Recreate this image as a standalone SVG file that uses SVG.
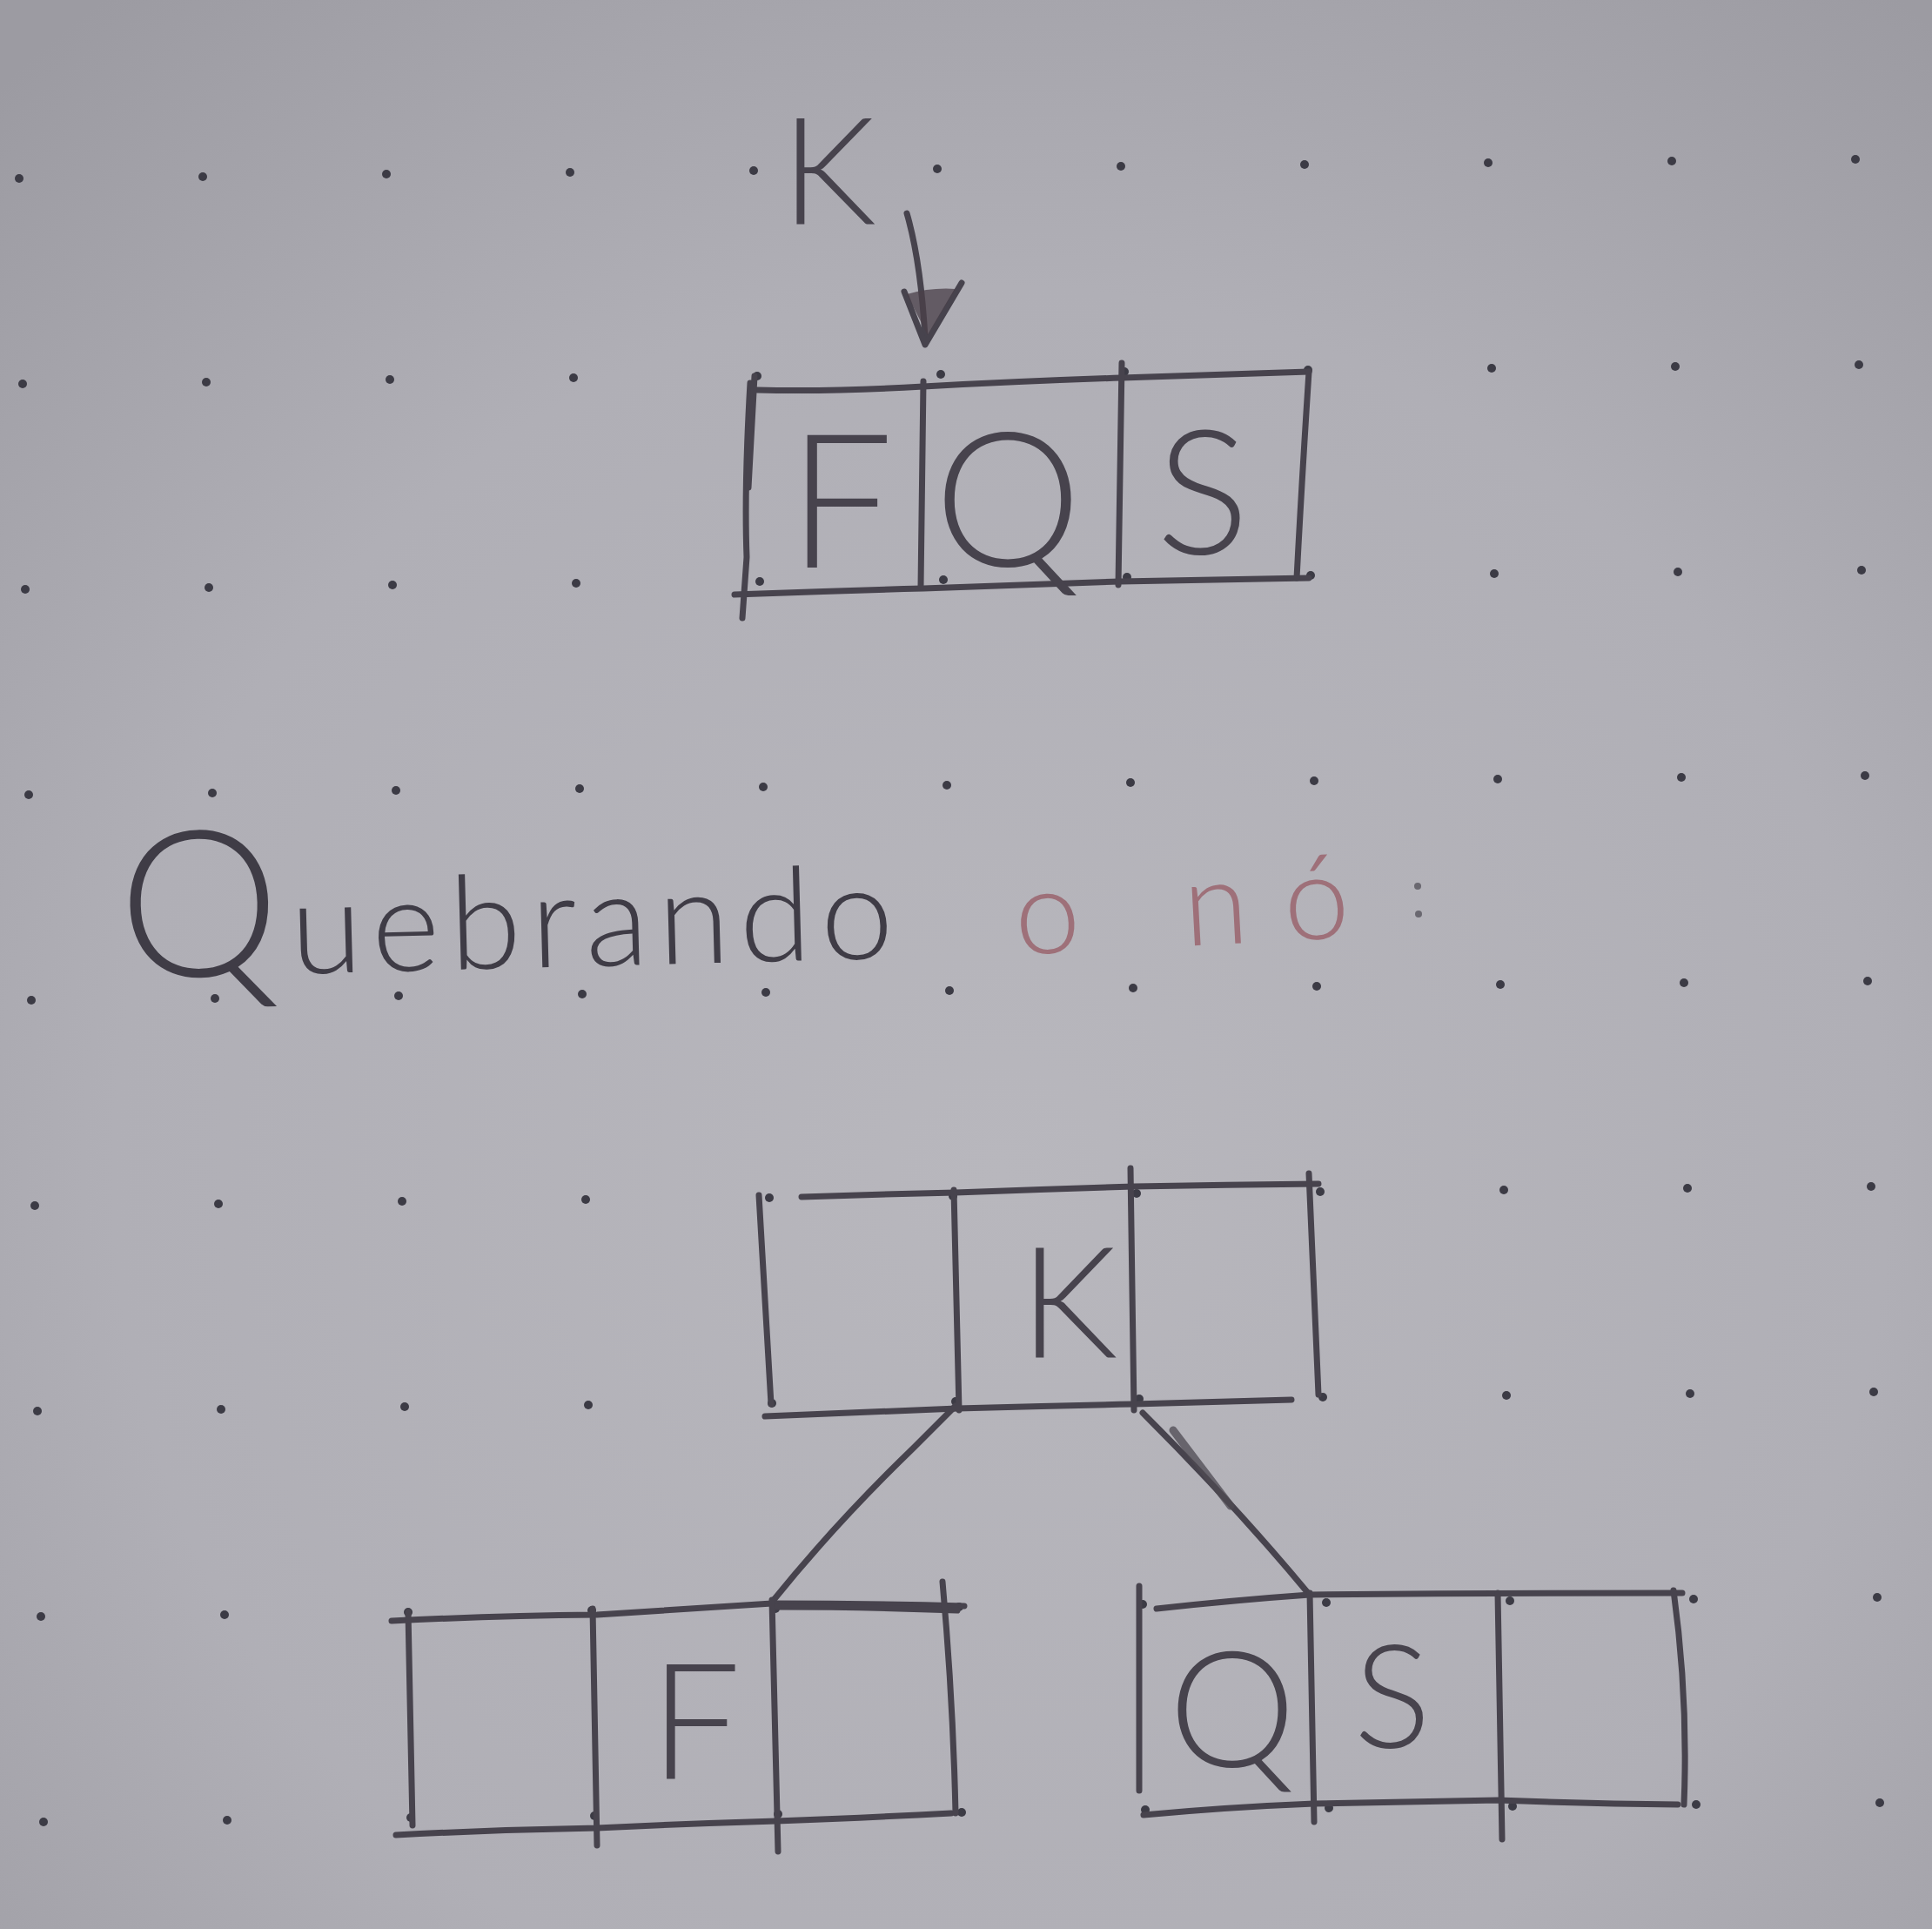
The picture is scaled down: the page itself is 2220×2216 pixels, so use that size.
<svg xmlns="http://www.w3.org/2000/svg" width="2220" height="2216" viewBox="0 0 2220 2216">
<defs>
<radialGradient id="paper" cx="1150" cy="1350" r="1700" gradientUnits="userSpaceOnUse">
<stop offset="0" stop-color="#b8b7bd"/>
<stop offset="0.6" stop-color="#b0afb6"/>
<stop offset="1" stop-color="#9c9ba2"/>
</radialGradient>
<style>
.pen{fill:none;stroke:#47434d;stroke-width:7;stroke-linecap:round;stroke-linejoin:round}
.pen2{fill:none;stroke:#4d4952;stroke-width:9;stroke-linecap:round;opacity:0.75}
.lbl{font-family:Lato,"Liberation Sans",sans-serif;font-weight:300;fill:#47434d;text-anchor:middle}
.hand{font-family:Lato,"Liberation Sans",sans-serif;font-weight:300}
.dot{fill:#3c3b45}
</style>
</defs>
<rect width="2220" height="2216" fill="url(#paper)"/>

<g id="dots">
<g id="dotrow0">
<circle class="dot" cx="22" cy="205" r="5"/><circle class="dot" cx="233" cy="203" r="5"/><circle class="dot" cx="444" cy="200" r="5"/><circle class="dot" cx="655" cy="198" r="5"/><circle class="dot" cx="866" cy="196" r="5"/><circle class="dot" cx="1077" cy="194" r="5"/><circle class="dot" cx="1288" cy="191" r="5"/><circle class="dot" cx="1499" cy="189" r="5"/><circle class="dot" cx="1710" cy="187" r="5"/><circle class="dot" cx="1921" cy="185" r="5"/><circle class="dot" cx="2132" cy="183" r="5"/>
</g>
<g id="dotrow1">
<circle class="dot" cx="26" cy="441" r="5"/><circle class="dot" cx="237" cy="439" r="5"/><circle class="dot" cx="448" cy="436" r="5"/><circle class="dot" cx="659" cy="434" r="5"/><circle class="dot" cx="870" cy="432" r="5"/><circle class="dot" cx="1081" cy="430" r="5"/><circle class="dot" cx="1292" cy="427" r="5"/><circle class="dot" cx="1503" cy="425" r="5"/><circle class="dot" cx="1714" cy="423" r="5"/><circle class="dot" cx="1925" cy="421" r="5"/><circle class="dot" cx="2136" cy="419" r="5"/>
</g>
<g id="dotrow2">
<circle class="dot" cx="29" cy="677" r="5"/><circle class="dot" cx="240" cy="675" r="5"/><circle class="dot" cx="451" cy="672" r="5"/><circle class="dot" cx="662" cy="670" r="5"/><circle class="dot" cx="873" cy="668" r="5"/><circle class="dot" cx="1084" cy="666" r="5"/><circle class="dot" cx="1295" cy="663" r="5"/><circle class="dot" cx="1506" cy="661" r="5"/><circle class="dot" cx="1717" cy="659" r="5"/><circle class="dot" cx="1928" cy="657" r="5"/><circle class="dot" cx="2139" cy="655" r="5"/>
</g>
<g id="dotrow3">
<circle class="dot" cx="33" cy="913" r="5"/><circle class="dot" cx="244" cy="911" r="5"/><circle class="dot" cx="455" cy="908" r="5"/><circle class="dot" cx="666" cy="906" r="5"/><circle class="dot" cx="877" cy="904" r="5"/><circle class="dot" cx="1088" cy="902" r="5"/><circle class="dot" cx="1299" cy="899" r="5"/><circle class="dot" cx="1510" cy="897" r="5"/><circle class="dot" cx="1721" cy="895" r="5"/><circle class="dot" cx="1932" cy="893" r="5"/><circle class="dot" cx="2143" cy="891" r="5"/>
</g>
<g id="dotrow4">
<circle class="dot" cx="36" cy="1149" r="5"/><circle class="dot" cx="247" cy="1147" r="5"/><circle class="dot" cx="458" cy="1144" r="5"/><circle class="dot" cx="669" cy="1142" r="5"/><circle class="dot" cx="880" cy="1140" r="5"/><circle class="dot" cx="1091" cy="1138" r="5"/><circle class="dot" cx="1302" cy="1135" r="5"/><circle class="dot" cx="1513" cy="1133" r="5"/><circle class="dot" cx="1724" cy="1131" r="5"/><circle class="dot" cx="1935" cy="1129" r="5"/><circle class="dot" cx="2146" cy="1127" r="5"/>
</g>
<g id="dotrow5">
<circle class="dot" cx="40" cy="1385" r="5"/><circle class="dot" cx="251" cy="1383" r="5"/><circle class="dot" cx="462" cy="1380" r="5"/><circle class="dot" cx="673" cy="1378" r="5"/><circle class="dot" cx="884" cy="1376" r="5"/><circle class="dot" cx="1095" cy="1374" r="5"/><circle class="dot" cx="1306" cy="1371" r="5"/><circle class="dot" cx="1517" cy="1369" r="5"/><circle class="dot" cx="1728" cy="1367" r="5"/><circle class="dot" cx="1939" cy="1365" r="5"/><circle class="dot" cx="2150" cy="1363" r="5"/>
</g>
<g id="dotrow6">
<circle class="dot" cx="43" cy="1621" r="5"/><circle class="dot" cx="254" cy="1619" r="5"/><circle class="dot" cx="465" cy="1616" r="5"/><circle class="dot" cx="676" cy="1614" r="5"/><circle class="dot" cx="887" cy="1612" r="5"/><circle class="dot" cx="1098" cy="1610" r="5"/><circle class="dot" cx="1309" cy="1607" r="5"/><circle class="dot" cx="1520" cy="1605" r="5"/><circle class="dot" cx="1731" cy="1603" r="5"/><circle class="dot" cx="1942" cy="1601" r="5"/><circle class="dot" cx="2153" cy="1599" r="5"/>
</g>
<g id="dotrow7">
<circle class="dot" cx="47" cy="1857" r="5"/><circle class="dot" cx="258" cy="1855" r="5"/><circle class="dot" cx="469" cy="1852" r="5"/><circle class="dot" cx="680" cy="1850" r="5"/><circle class="dot" cx="891" cy="1848" r="5"/><circle class="dot" cx="1102" cy="1846" r="5"/><circle class="dot" cx="1313" cy="1843" r="5"/><circle class="dot" cx="1524" cy="1841" r="5"/><circle class="dot" cx="1735" cy="1839" r="5"/><circle class="dot" cx="1946" cy="1837" r="5"/><circle class="dot" cx="2157" cy="1835" r="5"/>
</g>
<g id="dotrow8">
<circle class="dot" cx="50" cy="2093" r="5"/><circle class="dot" cx="261" cy="2091" r="5"/><circle class="dot" cx="472" cy="2088" r="5"/><circle class="dot" cx="683" cy="2086" r="5"/><circle class="dot" cx="894" cy="2084" r="5"/><circle class="dot" cx="1105" cy="2082" r="5"/><circle class="dot" cx="1316" cy="2079" r="5"/><circle class="dot" cx="1527" cy="2077" r="5"/><circle class="dot" cx="1738" cy="2075" r="5"/><circle class="dot" cx="1949" cy="2073" r="5"/><circle class="dot" cx="2160" cy="2071" r="5"/>
</g>
</g>

<g id="pointer-k">
<text class="lbl" x="952" y="258" font-size="172">K</text>
<path class="pen" d="M1042,245 Q1058,300 1063,388"/>
<path class="pen" d="M1039,335 L1063,396 L1105,325" />
<path d="M1042,338 Q1070,330 1098,332 L1066,385 Z" fill="#4a3f48" opacity="0.75"/>
</g>

<g id="node-fqs">
<path class="pen" d="M870,448 Q960,450 1061,444 Q1170,438 1289,434 Q1400,430 1504,427"/>
<path class="pen" d="M844,683 Q950,679 1061,676 Q1170,672 1287,668 Q1400,666 1504,664"/>
<path class="pen" d="M862,440 Q855,560 858,640 L853,710"/>
<path class="pen" d="M867,432 L860,560" stroke-width="11"/>
<path class="pen" d="M1061,438 L1058,674"/>
<path class="pen" d="M1289,417 L1285,672"/>
<path class="pen" d="M1504,427 Q1496,550 1490,664"/>
<text class="lbl" x="966" y="652" font-size="215">F</text>
<text class="lbl" x="1158" y="650" font-size="215">Q</text>
<text class="lbl" x="1382" y="636" font-size="200">S</text>
</g>

<g id="title">
<text class="hand" x="138" y="1124" font-size="150" fill="#3f3c46" textLength="890" lengthAdjust="spacing" transform="rotate(-1.5 138 1124)"><tspan font-size="235">Q</tspan>uebrando</text>
<text class="hand" x="1168" y="1097" font-size="135" fill="#9e7079" textLength="385" lengthAdjust="spacing" transform="rotate(-3 1168 1097)">o nó</text>
<circle cx="1629" cy="1018" r="4" fill="#6a6870"/>
<circle cx="1630" cy="1050" r="4" fill="#6a6870"/>
</g>

<g id="connectors">
<path class="pen" d="M1098,1615 L1050,1663 Q960,1750 889,1838"/>
<path class="pen" d="M1313,1623 Q1420,1730 1503,1830"/>
<path class="pen2" d="M1348,1643 L1414,1730"/>
</g>

<g id="node-k">
<path class="pen" d="M921,1375 Q1010,1372 1098,1370 Q1200,1366 1303,1363 Q1410,1361 1515,1360"/>
<path class="pen" d="M879,1627 Q990,1622 1100,1618 Q1200,1615 1303,1613 Q1400,1610 1484,1608"/>
<path class="pen" d="M872,1373 L886,1613"/>
<path class="pen" d="M1096,1367 L1102,1620"/>
<path class="pen" d="M1299,1342 L1303,1620"/>
<path class="pen" d="M1504,1348 Q1510,1480 1515,1602"/>
<text class="lbl" x="1228" y="1560" font-size="177">K</text>
</g>

<g id="node-f">
<path class="pen" d="M450,1862 Q570,1856 686,1855 Q790,1848 887,1842 Q1000,1842 1108,1845"/>
<path class="pen" d="M890,1846 Q1000,1846 1100,1850" stroke-width="10"/>
<path class="pen" d="M455,2108 Q570,2102 686,2100 Q790,2095 892,2092 Q1000,2088 1093,2083"/>
<path class="pen" d="M469,1852 L474,2097"/>
<path class="pen" d="M681,1848 L686,2120"/>
<path class="pen" d="M887,1838 L894,2127"/>
<path class="pen" d="M1083,1817 Q1095,1950 1098,2083"/>
<text class="lbl" x="799" y="2043" font-size="185">F</text>
</g>

<g id="node-qs">
<path class="pen" d="M1329,1848 Q1420,1838 1505,1832 Q1720,1830 1933,1830"/>
<path class="pen" d="M1314,2085 Q1410,2076 1510,2072 Q1620,2070 1721,2068 Q1830,2072 1928,2073"/>
<path class="pen" d="M1309,1822 L1309,2057"/>
<path class="pen" d="M1505,1830 L1510,2093"/>
<path class="pen" d="M1721,1830 L1726,2113"/>
<path class="pen" d="M1923,1827 Q1940,1950 1935,2073"/>
<text class="lbl" x="1416" y="2030" font-size="185">Q</text>
<text class="lbl" x="1600" y="2008" font-size="165">S</text>
</g>
</svg>
